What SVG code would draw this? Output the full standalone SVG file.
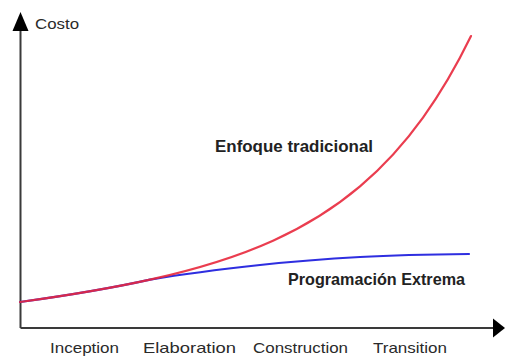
<svg xmlns="http://www.w3.org/2000/svg" width="505" height="358" viewBox="0 0 505 358">
  <style>
    .axis { stroke: #3a3a3a; stroke-width: 2; fill: none; }
    .head { fill: #000; }
    .curve { fill: none; stroke-width: 2.2; stroke-linecap: round; }
    .trad { stroke: #e8283c; }
    .xp { stroke: #2e2ee0; }
    .lbl { font-family: "Liberation Sans", Arial, sans-serif; fill: #2a2a2a; }
    .bold { font-weight: bold; fill: #222; }
  </style>
  <rect width="505" height="358" fill="#fff"/>

  <g id="axes">
    <line class="axis" x1="20.5" y1="28" x2="20.5" y2="328"/>
    <line class="axis" x1="20.5" y1="328" x2="494" y2="328"/>
    <polygon class="head" points="20.5,12 12.5,31 28.5,31"/>
    <polygon class="head" points="505,328 493,318.5 493,337.5"/>
    <text class="lbl" x="35" y="29" font-size="15" textLength="44" lengthAdjust="spacingAndGlyphs">Costo</text>
  </g>

  <g id="connectors">
    <!-- agile cost: levels off after the elaboration phase -->
    <path id="xp-curve" class="curve xp" d="M20,302 C63.3,296 106.7,289.2 150,279.6 C186.7,273.5 223.3,269 260,265 C293.3,261.4 326.7,258.8 360,257 C396.3,255.1 432.7,254.4 469,254"/>
    <!-- traditional cost: grows exponentially over time -->
    <path id="trad-curve" class="curve trad" stroke-opacity="0.9" d="M20,302 C63.3,296 106.7,289.2 150,279.6 C191,270.5 232,259.2 273,240.7 C302,227.6 331,210.9 360,186.4 C381,168.6 402,146.8 423,117.6 C439,95.4 455,69 471,36.1"/>
  </g>

  <g id="trad-label">
    <text class="lbl bold" x="215" y="151.5" font-size="16.5" textLength="158" lengthAdjust="spacingAndGlyphs">Enfoque tradicional</text>
  </g>
  <g id="xp-label">
    <text class="lbl bold" x="288" y="285" font-size="16.5" textLength="177" lengthAdjust="spacingAndGlyphs">Programación Extrema</text>
  </g>

  <g id="phases">
    <text class="lbl" x="50" y="352.5" font-size="15" textLength="69" lengthAdjust="spacingAndGlyphs">Inception</text>
    <text class="lbl" x="143" y="352.5" font-size="15" textLength="93" lengthAdjust="spacingAndGlyphs">Elaboration</text>
    <text class="lbl" x="253" y="352.5" font-size="15" textLength="95" lengthAdjust="spacingAndGlyphs">Construction</text>
    <text class="lbl" x="373" y="352.5" font-size="15" textLength="74" lengthAdjust="spacingAndGlyphs">Transition</text>
  </g>
</svg>
